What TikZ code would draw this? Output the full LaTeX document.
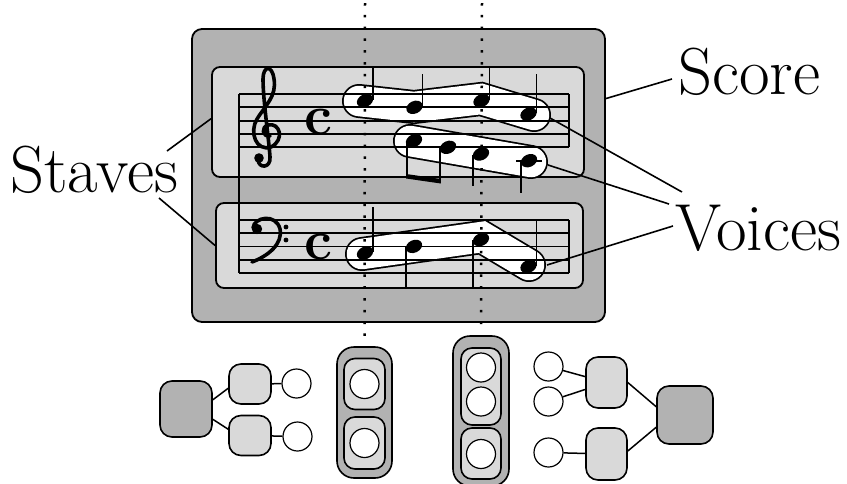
\documentclass[tikz,border=0pt]{standalone}
\usetikzlibrary{shapes.geometric,calc}
\begin{document}
\begin{tikzpicture}[x=1pt,y=-1pt,
  dark/.style={fill=black!30},
  light/.style={fill=black!15},
  bigbox/.style={draw, line width=1.8pt, inner sep=0pt},
  tn/.style={draw, line width=1.6pt, rounded corners=12pt, inner sep=0pt},
  circ/.style={draw, circle, fill=white, line width=1.2pt, minimum size=29pt, inner sep=0pt},
  blobout/.style={line width=34pt, line cap=round, line join=miter},
  blobin/.style={white, line width=30.5pt, line cap=round, line join=miter},
  stafflines/.style={line width=1.8pt},
  dotline/.style={line width=2.5pt, dash pattern=on 2.5pt off 9.3pt},
  head/.style={ellipse, fill, inner sep=0pt, minimum width=17pt, minimum height=12.5pt, rotate=25},
  stem/.style={line width=1.8pt},
  conn/.style={line width=1.6pt},
  lbl/.style={inner sep=0pt, font=\fontsize{66.5}{72}\selectfont},
  timesig/.style={inner sep=0pt, font=\fontsize{56}{56}\selectfont\bfseries},
  treenode/.style={line width=1.5pt}
]
\useasboundingbox (0,0) rectangle (847,483);

% boxes
\node[bigbox, dark, rounded corners=10pt, minimum width=413pt, minimum height=293pt] (score) at (398.5,175.5) {};
\node[bigbox, light, rounded corners=8pt, minimum width=372pt, minimum height=110pt] (treb) at (398,122) {};
\node[bigbox, light, rounded corners=8pt, minimum width=367pt, minimum height=85pt] (bass) at (399.5,245.5) {};

% voice blobs
\draw[blobout] (359,101) -- (414,107) -- (481,99) -- (534,115);
\draw[blobin]  (359,101) -- (414,107) -- (481,99) -- (534,115);
\draw[blobout] (410,141) -- (531,162);
\draw[blobin]  (410,141) -- (531,162);
\draw[blobout] (362,254) -- (482,237) -- (529,265);
\draw[blobin]  (362,254) -- (482,237) -- (529,265);

% staff lines
\foreach \y in {94,107.33,120.67,134,147.33}{\draw[stafflines] (239,\y) -- (569,\y);}
\foreach \y in {220,233.2,246.4,259.6,272.8}{\draw[stafflines] (239,\y) -- (569,\y);}
\draw[line width=2pt] (239,94) -- (239,272.8);
\draw[line width=2pt] (569,94) -- (569,147.33);
\draw[line width=2pt] (569,220) -- (569,272.8);

% bottom structures (needed for dotted line ends)
\node[tn, dark, rounded corners=17pt, minimum width=55pt, minimum height=131pt] (c1) at (364.5,412.5) {};
\node[tn, light, rounded corners=11pt, minimum width=41pt, minimum height=51pt] (c1a) at (364.5,384) {};
\node[tn, light, rounded corners=11pt, minimum width=41pt, minimum height=52pt] (c1b) at (364.5,443) {};
\node[circ] (c1ac) at (364.5,384) {};
\node[circ] (c1bc) at (364.5,443) {};

\node[tn, dark, rounded corners=17pt, minimum width=56pt, minimum height=150pt] (c2) at (481,411) {};
\node[tn, light, rounded corners=11pt, minimum width=40pt, minimum height=77pt] (c2a) at (481,386.5) {};
\node[tn, light, rounded corners=11pt, minimum width=40pt, minimum height=51pt] (c2b) at (481,453.5) {};
\node[circ] (c2a1) at (481,367.5) {};
\node[circ] (c2a2) at (481,401.5) {};
\node[circ] (c2bc) at (481,454) {};

% dotted lines
\coordinate (d1top) at (365,3);
\coordinate (d2top) at (482,3);
\draw[dotline] (d1top) -- ([yshift=5pt]c1.north);
\draw[dotline] (d2top) -- ([yshift=3pt]c2.north);

% treble voice 1
\node[head] (t1) at (365,100.67) {};
\node[head] (t2) at (414.5,107.33) {};
\node[head] (t3) at (481.5,100.67) {};
\node[head] (t4) at (528.5,114) {};
\draw[stem] (373,100) -- (373,67);
\draw[stem] (422.5,106) -- (422.5,74);
\draw[stem] (489.5,100) -- (489.5,67);
\draw[stem] (536.5,113) -- (536.5,74);
% treble voice 2
\node[head] (t5) at (414,140.67) {};
\node[head] (t6) at (448,147.33) {};
\node[head] (t7) at (481,154) {};
\node[head] (t8) at (529,160.67) {};
\draw[line width=2pt] (516,160.67) -- (542,160.67);
\draw[stem] (407,141) -- (407,178);
\draw[stem] (440,148) -- (440,183);
\fill (406.1,174) -- (440.9,179) -- (440.9,183.5) -- (406.1,178.5) -- cycle;
\draw[stem] (473,155) -- (473,186);
\draw[stem] (521,161) -- (521,193);
% bass voice
\node[head] (b1) at (365,253) {};
\node[head] (b2) at (414,246.4) {};
\node[head] (b3) at (481,239.6) {};
\node[head] (b4) at (528.5,266.4) {};
\draw[stem] (373,252) -- (373,207);
\draw[stem] (406,247) -- (406,287);
\draw[stem] (473,240) -- (473,287);
\draw[stem] (536.5,266) -- (536.5,220);

% treble clef
\draw[line width=3.6pt, line cap=round, line join=round]
  (270,136) .. controls (262,137) and (261,127) .. (268,125)
  .. controls (280,122) and (285,140) .. (271,147)
  .. controls (256,152) and (249,132) .. (257,119)
  .. controls (265,106) and (277,96) .. (274,79)
  .. controls (272,64) and (263,66) .. (263,79)
  .. controls (263,100) and (269,140) .. (270,157)
  .. controls (271,168) and (259,169) .. (258,160);
\fill (259,158) circle (4.8);
% bass clef
\fill (257,229) circle (5.2);
\draw[line width=3.6pt, line cap=round]
  (253,228) .. controls (254,217) and (276,213) .. (280,229)
  .. controls (283,244) and (268,256) .. (252,262);
\fill (286,227) circle (2.4);
\fill (286,240) circle (2.4);

% time signatures
\node[timesig] (ts1) at (318,121.5) {c};
\node[timesig] (ts2) at (318,246.5) {c};

% labels
\node[lbl, anchor=base west] (scoreL) at (678,94) {Score};
\node[lbl, anchor=base west] (stavesL) at (10,192) {Staves};
\node[lbl, anchor=base west] (voicesL) at (675,250) {Voices};

% label connectors
\coordinate (scA) at (672,79);
\draw[conn] (scA) -- ($(score.north east)!0.239!(score.south east)$);
\coordinate (stA) at (167,151);
\coordinate (stB) at (159,198);
\draw[conn] (stA) -- ($(treb.north west)!0.47!(treb.south west)$);
\draw[conn] (stB) -- (bass.west);
\coordinate (vA) at (682,192);
\coordinate (vB) at (669,204);
\coordinate (vC) at (673,226);
\coordinate (v1end) at (550,118);
\coordinate (v2end) at (548,165);
\coordinate (v3end) at (547,265);
\draw[conn] (vA) -- (v1end);
\draw[conn] (vB) -- (v2end);
\draw[conn] (vC) -- (v3end);

% left tree
\node[tn, dark, minimum width=52pt, minimum height=56pt] (ld) at (186,409) {};
\node[tn, light, minimum width=42pt, minimum height=40pt] (ll1) at (250,384) {};
\node[tn, light, minimum width=42pt, minimum height=40pt] (ll2) at (250,435.5) {};
\node[circ] (lc1) at (296.5,383.5) {};
\node[circ] (lc2) at (297.5,436.5) {};
\draw[treenode] (ld.19) -- (ll1.191);
\draw[treenode] (ld.-21) -- (ll2.164);
\draw[treenode] (ll1) -- (lc1);
\draw[treenode] (ll2) -- (lc2);

% right tree
\node[circ] (rc1) at (548.5,366.5) {};
\node[circ] (rc2) at (548.5,401.5) {};
\node[circ] (rc3) at (548.5,452.5) {};
\node[tn, light, minimum width=41pt, minimum height=51pt] (rl1) at (606.5,382.5) {};
\node[tn, light, minimum width=41pt, minimum height=52pt] (rl2) at (606.5,454) {};
\node[tn, dark, minimum width=56pt, minimum height=58pt] (rd) at (685,415) {};
\draw[treenode] (rc1) -- (rl1);
\draw[treenode] (rc2) -- (rl1);
\draw[treenode] (rc3) -- (rl2);
\draw[treenode] (rl1.east) -- (rd.164);
\draw[treenode] (rl2.8) -- (rd.203);
\end{tikzpicture}
\end{document}
